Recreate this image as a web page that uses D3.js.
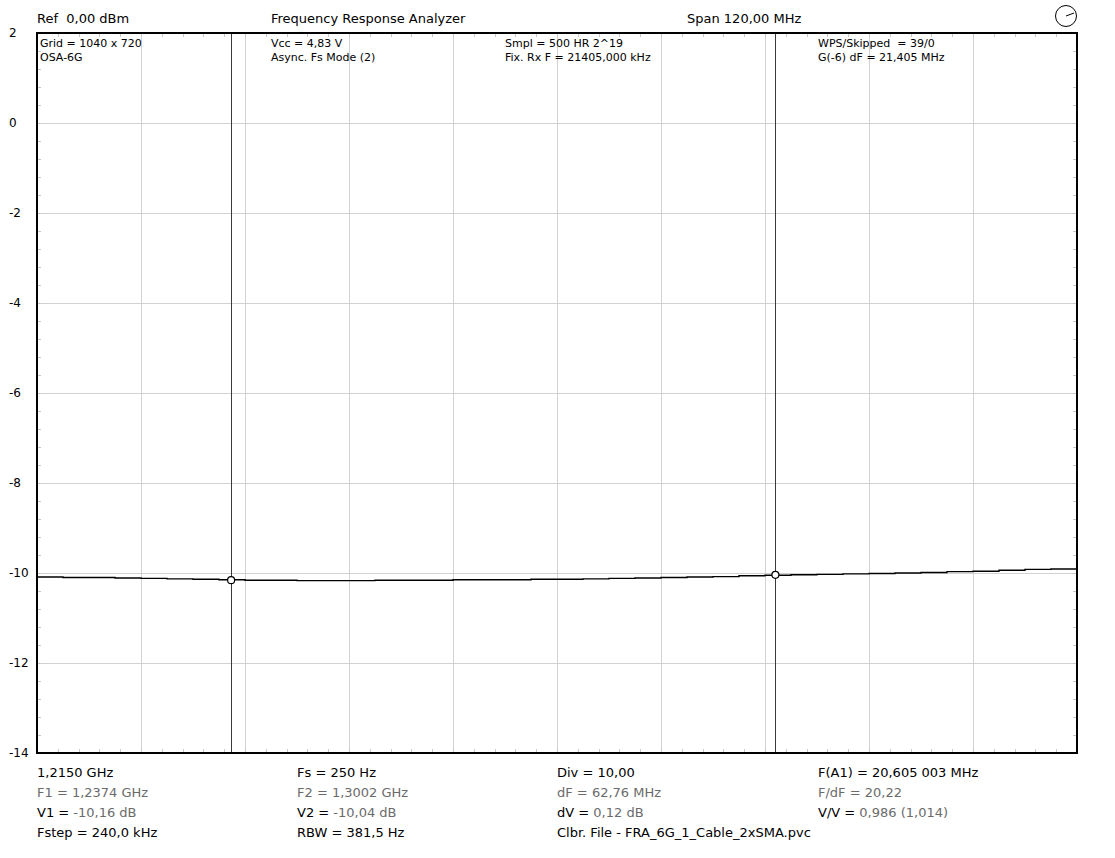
<!DOCTYPE html>
<html><head><meta charset="utf-8">
<script src="https://cdn.jsdelivr.net/npm/d3@7"></script>
<style>
html,body{margin:0;padding:0;background:#fff;}
svg{display:block;}
text{font-family:"DejaVu Sans",Verdana,sans-serif;fill:#000;white-space:pre;}
</style></head>
<body><svg id="c" width="1115" height="858"></svg>
<script>
// ---- data ----
const freqMHz = [1215,1218,1221,1224,1227,1230,1233,1236,1239,1242,1245,1248,1251,1254,1257,1260,1263,1266,1269,1272,1275,1278,1281,1284,1287,1290,1293,1296,1299,1302,1305,1308,1311,1314,1317,1320,1323,1326,1329,1332,1335];
const levelDb = [-10.09,-10.10,-10.10,-10.11,-10.12,-10.13,-10.14,-10.15,-10.16,-10.16,-10.17,-10.17,-10.17,-10.16,-10.16,-10.16,-10.15,-10.15,-10.15,-10.14,-10.14,-10.13,-10.12,-10.11,-10.10,-10.09,-10.08,-10.06,-10.05,-10.04,-10.03,-10.02,-10.01,-10.00,-9.99,-9.97,-9.96,-9.94,-9.92,-9.91,-9.90];
const yTicks = [2,0,-2,-4,-6,-8,-10,-12,-14];
const xGridMHz = [1227,1239,1251,1263,1275,1287,1299,1311,1323];
const markerF = [1237.4,1300.2];
const markerV = [-10.16,-10.04];
const headerTexts = ["Ref  0,00 dBm","Frequency Response Analyzer","Span 120,00 MHz"];
const infoCols = [["Grid = 1040 x 720","OSA-6G"],["Vcc = 4,83 V","Async. Fs Mode (2)"],["Smpl = 500 HR 2^19","Fix. Rx F = 21405,000 kHz"],["WPS/Skipped  = 39/0","G(-6) dF = 21,405 MHz"]];
const footerCols = [
  [["1,2150 GHz",""],["F1 = 1,2374 GHz",""],["V1 = ","-10,16 dB"],["Fstep = 240,0 kHz",""]],
  [["Fs = 250 Hz",""],["F2 = 1,3002 GHz",""],["V2 = ","-10,04 dB"],["RBW = 381,5 Hz",""]],
  [["Div = 10,00",""],["dF = 62,76 MHz",""],["dV = ","0,12 dB"],["Clbr. File - FRA_6G_1_Cable_2xSMA.pvc",""]],
  [["F(A1) = 20,605 003 MHz",""],["F/dF = 20,22",""],["V/V = ","0,986 (1,014)"],["",""]]
];

// ---- layout ----
const L=37,R=1077,T=33,B=753;
const svg=d3.select("#c");
const x=d3.scaleLinear().domain([1215,1335]).range([L,R]);
const y=d3.scaleLinear().domain([-14,2]).range([B,T]);

// grid
svg.append("g").selectAll("line").data(xGridMHz).join("line")
  .attr("x1",d=>Math.round(x(d))+0.5).attr("x2",d=>Math.round(x(d))+0.5)
  .attr("y1",T).attr("y2",B).attr("stroke","#d2d2d2").attr("stroke-width",1);
svg.append("g").selectAll("line").data(yTicks.slice(1,-1)).join("line")
  .attr("y1",d=>Math.round(y(d))+0.5).attr("y2",d=>Math.round(y(d))+0.5)
  .attr("x1",L).attr("x2",R).attr("stroke","#d2d2d2").attr("stroke-width",1);

// minor ticks
const minorX=d3.range(1215,1335.01,2.4);
const minorY=d3.range(-14,2.01,0.4);
const mt=svg.append("g").attr("stroke","#c8c8c8").attr("stroke-width",1);
minorX.forEach(f=>{const px=Math.round(x(f))+0.5;
  mt.append("line").attr("x1",px).attr("x2",px).attr("y1",B-4).attr("y2",B);
  mt.append("line").attr("x1",px).attr("x2",px).attr("y1",T).attr("y2",T+4);});
minorY.forEach(v=>{const py=Math.round(y(v))+0.5;
  mt.append("line").attr("x1",L).attr("x2",L+4).attr("y1",py).attr("y2",py);
  mt.append("line").attr("x1",R-4).attr("x2",R).attr("y1",py).attr("y2",py);});

// y labels
svg.append("g").selectAll("text").data(yTicks).join("text")
  .attr("x",9).attr("y",d=>y(d)+4).attr("font-size",12).text(d=>d);

// marker lines
svg.append("g").selectAll("line").data(markerF).join("line")
  .attr("x1",d=>Math.round(x(d))+0.5).attr("x2",d=>Math.round(x(d))+0.5)
  .attr("y1",T).attr("y2",B).attr("stroke","#3a3a3a").attr("stroke-width",1);

// trace
const pts=freqMHz.map((f,i)=>[f,levelDb[i]]);
svg.append("path").datum(pts)
  .attr("d",d3.line().x(d=>x(d[0])).y(d=>y(d[1])).curve(d3.curveStepAfter))
  .attr("fill","none").attr("stroke","#000").attr("stroke-width",1.4);

// marker circles
svg.append("g").selectAll("circle").data(markerF).join("circle")
  .attr("cx",d=>x(d)).attr("cy",(d,i)=>y(markerV[i])).attr("r",3.5)
  .attr("fill","#fff").attr("stroke","#000").attr("stroke-width",1.2);

// border
svg.append("rect").attr("x",L).attr("y",T).attr("width",R-L).attr("height",B-T)
  .attr("fill","none").attr("stroke","#000").attr("stroke-width",2);

// header
const hx=[37,271,687];
headerTexts.forEach((t,i)=>svg.append("text").attr("x",hx[i]).attr("y",23).attr("font-size",13).attr("xml:space","preserve").text(t));
// clock icon
const ck=svg.append("g").attr("fill","none").attr("stroke","#000").attr("stroke-width",1);
ck.append("circle").attr("cx",1066).attr("cy",16).attr("r",10.5);
ck.append("line").attr("x1",1066).attr("y1",16).attr("x2",1074).attr("y2",13);

// info
const ix=[40,271,505,818];
infoCols.forEach((col,i)=>col.forEach((t,j)=>svg.append("text").attr("x",ix[i]).attr("y",47+j*14).attr("font-size",11).attr("xml:space","preserve").text(t)));

// footer
const fx=[37,297,557,818];
footerCols.forEach((col,i)=>col.forEach((r,j)=>{
  const t=svg.append("text").attr("x",fx[i]).attr("y",777+j*20).attr("font-size",13).attr("xml:space","preserve");
  const grayAll = (j===1);
  t.append("tspan").attr("fill",grayAll?"#6b6b6b":"#000").text(r[0]);
  if(r[1]) t.append("tspan").attr("fill","#6b6b6b").text(r[1]);
}));
</script></body></html>
